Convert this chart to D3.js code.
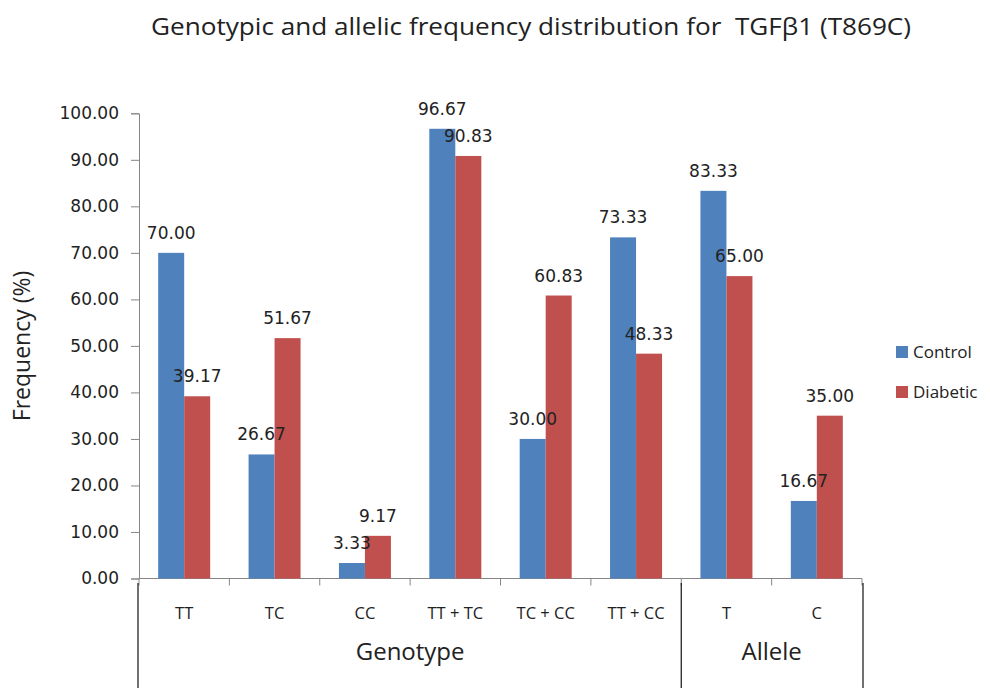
<!DOCTYPE html>
<html>
<head>
<meta charset="utf-8">
<script src="https://cdn.jsdelivr.net/npm/d3@7"></script>
<style>
body { margin: 0; background: #fff; }
text { fill: #222; }
</style>
</head>
<body>
<svg id="chart" width="990" height="688"></svg>
<script>
var categories = ["TT", "TC", "CC", "TT + TC", "TC + CC", "TT + CC", "T", "C"];
var control = [70.00, 26.67, 3.33, 96.67, 30.00, 73.33, 83.33, 16.67];
var diabetic = [39.17, 51.67, 9.17, 90.83, 60.83, 48.33, 65.00, 35.00];
var seriesNames = ["Control", "Diabetic"];
var seriesColors = ["#4F81BD", "#C0504D"];
var groups = [
    { name: "Genotype", from: "TT", to: "TT + CC" },
    { name: "Allele", from: "T", to: "C" }
];
var yTicks = d3.range(0, 101, 10);

// ---------------------------------------------------------------------------

var svg = d3.select("#chart");
var plotLeft = 139, plotRight = 862, plotTop = 113.3, plotBottom = 578.5;

var x = d3.scaleBand()
    .domain(categories)
    .range([plotLeft, plotRight]);
var y = d3.scaleLinear()
    .domain([0, 100])
    .range([plotBottom, plotTop]);
var barW = 26;

// title
svg.append("text")
    .attr("x", 531).attr("y", 35)
    .attr("text-anchor", "middle")
    .attr("textLength", 760)
    .attr("lengthAdjust", "spacingAndGlyphs")
    .style("white-space", "pre")
    .style("font-family", "Open Sans")
    .style("font-size", "24px")
    .text("Genotypic and allelic frequency distribution for  TGFβ1 (T869C)");

// y axis
var yAxis = d3.axisLeft(y)
    .tickValues(yTicks)
    .tickSize(8)
    .tickFormat(d3.format(".2f"));
var gy = svg.append("g")
    .attr("transform", `translate(${plotLeft},0)`)
    .call(yAxis);
gy.select(".domain").attr("stroke", "#868686");
gy.selectAll(".tick line").attr("stroke", "#868686");
gy.selectAll(".tick text")
    .attr("x", -20)
    .style("font-family", "DejaVu Sans")
    .style("font-size", "17px")
    .style("fill", "#222");

svg.append("text")
    .attr("transform", "translate(30,346) rotate(-90)")
    .attr("text-anchor", "middle")
    .style("font-family", "Open Sans")
    .style("font-size", "23px")
    .text("Frequency (%)");

// x axis: baseline + category ticks
svg.append("line")
    .attr("x1", plotLeft).attr("x2", plotRight)
    .attr("y1", plotBottom).attr("y2", plotBottom)
    .attr("stroke", "#868686");
var edges = categories.map((c) => x(c)).concat([plotRight]);
svg.selectAll("line.xtick")
    .data(edges)
    .enter()
    .append("line")
    .attr("class", "xtick")
    .attr("x1", (d) => d).attr("x2", (d) => d)
    .attr("y1", plotBottom).attr("y2", plotBottom + 7)
    .attr("stroke", "#868686");

svg.selectAll("text.cat")
    .data(categories)
    .enter()
    .append("text")
    .attr("class", "cat")
    .attr("x", (d) => x(d) + x.bandwidth() / 2)
    .attr("y", 619)
    .attr("text-anchor", "middle")
    .style("font-family", "Open Sans")
    .style("font-size", "16.5px")
    .text((d) => d);

// group separators and labels
var sepX = [x(groups[0].from) - 1, x(groups[1].from), plotRight + 1];
svg.selectAll("line.sep")
    .data(sepX)
    .enter()
    .append("line")
    .attr("class", "sep")
    .attr("x1", (d) => d).attr("x2", (d) => d)
    .attr("y1", 583).attr("y2", 688)
    .attr("stroke", "#111")
    .attr("stroke-width", 1.2);

svg.selectAll("text.grp")
    .data(groups)
    .enter()
    .append("text")
    .attr("class", "grp")
    .attr("x", (d) => (x(d.from) + x(d.to) + x.bandwidth()) / 2)
    .attr("y", 660)
    .attr("text-anchor", "middle")
    .style("font-family", "Open Sans")
    .style("font-size", "24px")
    .text((d) => d.name);

// bars first, then all value labels on top
var series = [control, diabetic];
var barData = series.map((vals, si) => categories.map((c, i) => ({
    cat: c, v: vals[i], si: si,
    off: x.bandwidth() / 2 - barW + si * barW
})));
barData.forEach(function (data, si) {
    svg.selectAll("rect.s" + si)
        .data(data)
        .enter()
        .append("rect")
        .attr("class", "s" + si)
        .attr("x", (d) => x(d.cat) + d.off)
        .attr("y", (d) => y(d.v))
        .attr("width", barW)
        .attr("height", (d) => y(0) - y(d.v))
        .attr("fill", seriesColors[si]);
});
barData.forEach(function (data, si) {
    svg.selectAll("text.l" + si)
        .data(data)
        .enter()
        .append("text")
        .attr("class", "l" + si)
        .attr("x", (d) => x(d.cat) + d.off + barW / 2)
        .attr("y", (d) => y(d.v) - 14)
        .attr("text-anchor", "middle")
        .style("font-family", "DejaVu Sans")
        .style("font-size", "17px")
        .text((d) => d.v.toFixed(2));
});

// legend
var legend = svg.selectAll("g.legend")
    .data(seriesNames)
    .enter()
    .append("g")
    .attr("class", "legend")
    .attr("transform", (d, i) => `translate(896,${346 + i * 40})`);
legend.append("rect")
    .attr("width", 12).attr("height", 12)
    .attr("fill", (d, i) => seriesColors[i]);
legend.append("text")
    .attr("x", 17).attr("y", 12)
    .style("font-family", "Open Sans")
    .style("font-size", "17px")
    .text((d) => d);
</script>
</body>
</html>
